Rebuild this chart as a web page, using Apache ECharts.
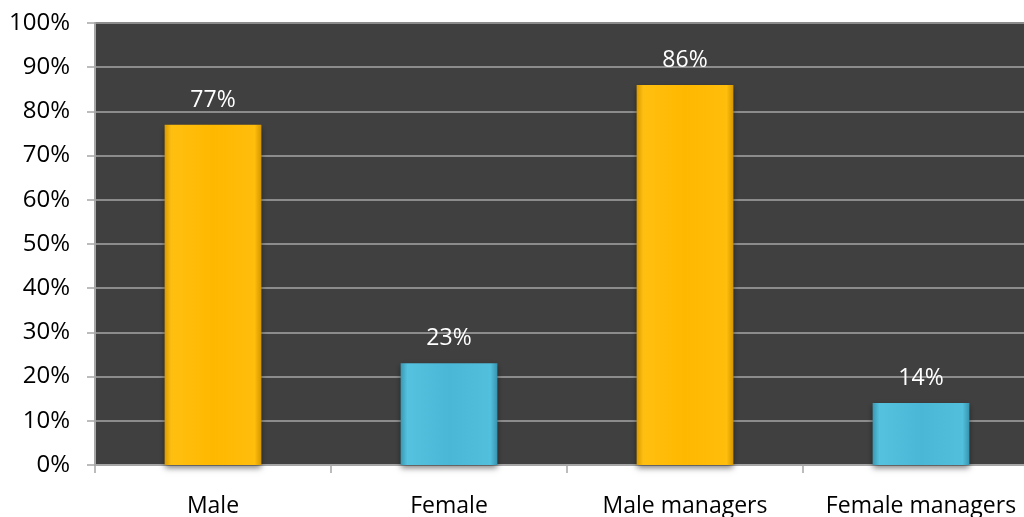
<!DOCTYPE html>
<html><head><meta charset="utf-8">
<script src="https://cdn.jsdelivr.net/npm/echarts@6/dist/echarts.min.js"></script>
<style>html,body{margin:0;padding:0;background:#fff}#c{width:1024px;height:517px}</style>
</head><body><div id="c"></div>
<script>
const categories = ['Male', 'Female', 'Male managers', 'Female managers'];
const values = [77, 23, 86, 14];
const yTicks = [0, 10, 20, 30, 40, 50, 60, 70, 80, 90, 100];

const gold = {type:'linear',x:0,y:0,x2:1,y2:0,colorStops:[
  {offset:0,color:'#d99a00'},{offset:0.07,color:'#ffbf10'},{offset:0.5,color:'#ffb800'},{offset:0.93,color:'#ffbd0c'},{offset:1,color:'#d49600'}]};
const blue = {type:'linear',x:0,y:0,x2:1,y2:0,colorStops:[
  {offset:0,color:'#3a98b2'},{offset:0.07,color:'#55c2e0'},{offset:0.5,color:'#4bb7d6'},{offset:0.93,color:'#52bfdd'},{offset:1,color:'#3795af'}]};
const colors = [gold, blue, gold, blue];
const font = '"Open Sans", sans-serif';

const chart = echarts.init(document.getElementById('c'));
chart.setOption({
  animation: false,
  backgroundColor: '#ffffff',
  grid: {left: 95, top: 23, width: 944, height: 442, containLabel: false, outerBoundsMode: 'none',
         show: true, backgroundColor: '#404040', borderWidth: 0},
  xAxis: {
    type: 'category', data: categories,
    axisLine: {lineStyle: {color: '#a6a6a6', width: 2}},
    axisTick: {show: true, length: 8, lineStyle: {color: '#a6a6a6', width: 1.5}},
    axisLabel: {color: '#000', fontSize: 23, fontFamily: font, margin: 30, interval: 0, hideOverlap: false}
  },
  yAxis: {
    type: 'value', min: yTicks[0], max: yTicks[yTicks.length-1], interval: 10,
    axisLine: {show: true, lineStyle: {color: '#a6a6a6', width: 2}},
    axisTick: {show: true, length: 8, lineStyle: {color: '#a6a6a6', width: 1.5}},
    splitLine: {lineStyle: {color: '#8c8c8c', width: 2}},
    axisLabel: {color: '#000', fontSize: 24, fontFamily: font, margin: 25, formatter: v => v + '%'}
  },
  series: [{
    type: 'bar', barWidth: '41%',
    data: values.map((v, i) => ({value: v, itemStyle: {color: colors[i]}})),
    itemStyle: {shadowColor: 'rgba(0,0,0,0.5)', shadowBlur: 6, shadowOffsetY: 3},
    label: {show: true, position: 'top', distance: 13, color: '#fff', fontSize: 23, fontFamily: font, formatter: p => p.value + '%'}
  }]
});
</script></body></html>
